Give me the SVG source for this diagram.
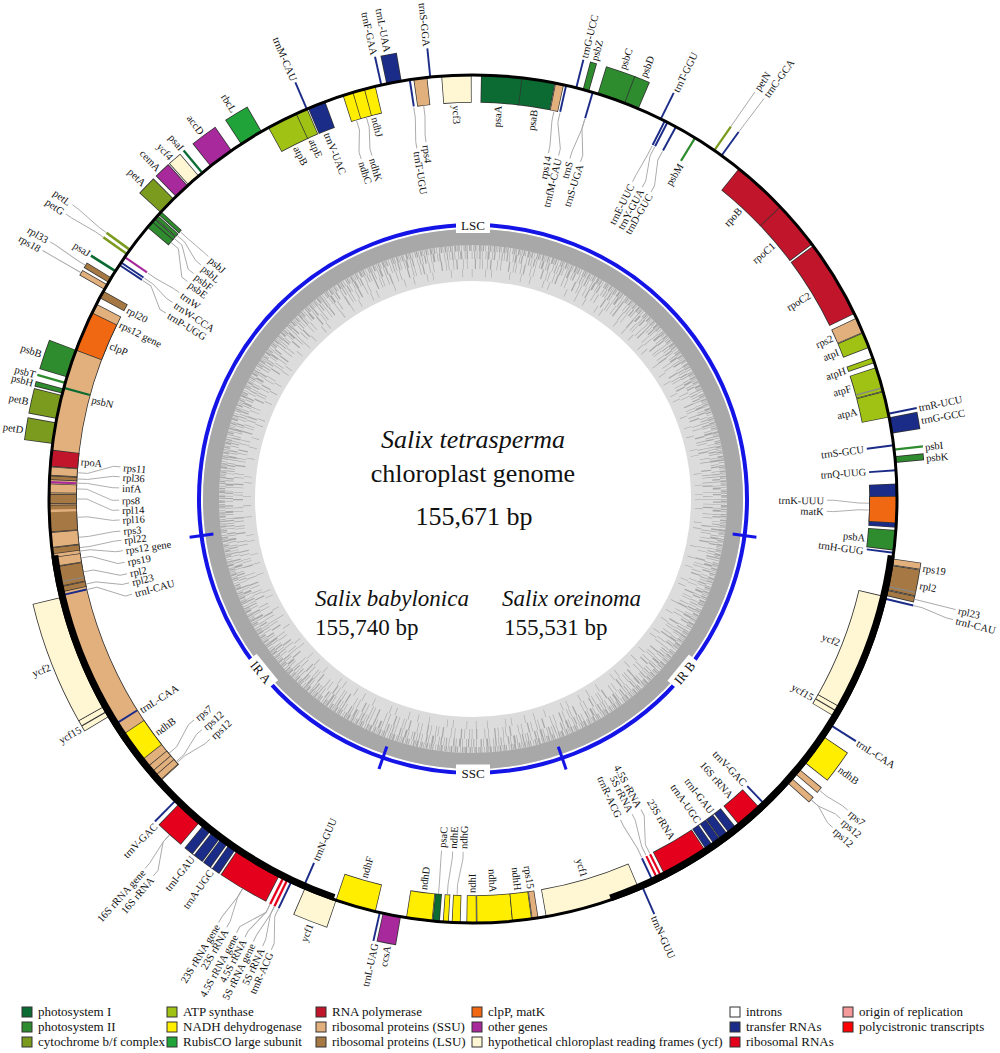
<svg xmlns="http://www.w3.org/2000/svg" width="1000" height="1053" viewBox="0 0 1000 1053">
<style>
text{font-family:"Liberation Serif","Times New Roman",serif;fill:#111}
#labels text{font-size:10.5px}
.s{text-anchor:start}.e{text-anchor:end}.m{text-anchor:middle}
.pI{stroke:#0b6b32}.pII{stroke:#2e8b2e}.cyt{stroke:#7b9b1f}.atp{stroke:#9fc214}.ndh{stroke:#ffee00}.rbc{stroke:#20a338}.rpo{stroke:#c1152b}.ssu{stroke:#e2b07d}.lsu{stroke:#a67944}.clp{stroke:#f06812}.oth{stroke:#a8299c}.ycf{stroke:#fff7d4}.trn{stroke:#1b2c88}.rrn{stroke:#e4001c}.int{stroke:#888}.wht{stroke:#fff}.drk{stroke:#333}
#leaders polyline{fill:none;stroke:#a8a8a8;stroke-width:0.9}
#ring text{font-size:13px}
#legend text{font-size:13px}
#legend rect{stroke:#333;stroke-width:1}
</style>
<defs>
<circle id="O" cx="473" cy="499" r="438" pathLength="360" fill="none" stroke-width="28"/>
<circle id="Ob" cx="473" cy="499" r="438" pathLength="360" fill="none" stroke-width="29.6" stroke="#333"/>
<circle id="OL" cx="473" cy="499" r="438.5" pathLength="360" fill="none" stroke-width="29"/>
<circle id="I" cx="473" cy="499" r="410.5" pathLength="360" fill="none" stroke-width="27"/>
<circle id="Ib" cx="473" cy="499" r="410.5" pathLength="360" fill="none" stroke-width="28.6" stroke="#333"/>
</defs>
<rect width="1000" height="1053" fill="#fff"/>
<g id="gc" fill="none">
<circle cx="473" cy="499" r="244" stroke="#dcdcdc" stroke-width="52"/>
<circle cx="473" cy="499" r="262" stroke="#a8a8a8" stroke-width="16"/>
<circle cx="473" cy="499" r="251" stroke="#a8a8a8" stroke-width="6" pathLength="2400" stroke-dasharray="1 1.5 2 1 1 2.5 3 1 1 1 2 2 1 3 1.5 1 2 1 1 2 2.5 1 1 1.5"/>
<circle cx="473" cy="499" r="244" stroke="#a8a8a8" stroke-width="8" pathLength="2400" stroke-dasharray="1 3 2 2 1 5 1 2 3 4 1 2 2 6 1 3 1.5 2.5"/>
<circle cx="473" cy="499" r="235" stroke="#a8a8a8" stroke-width="10" pathLength="2400" stroke-dasharray="1 7 1 4 2 9 1 5 1 12 2 6 1 3"/>
<circle cx="473" cy="499" r="226" stroke="#a8a8a8" stroke-width="8" pathLength="2400" stroke-dasharray="1 15 1 22 1 9 1 30 1 18"/>
</g>
<g id="ring">
<circle cx="473" cy="499" r="274" fill="none" stroke="#1414e6" stroke-width="4"/>
<g stroke="#1414e6" stroke-width="3">
<line x1="262" y1="0" x2="286" y2="0" transform="translate(473 499) rotate(7.7)"/>
<line x1="262" y1="0" x2="286" y2="0" transform="translate(473 499) rotate(71)"/>
<line x1="262" y1="0" x2="286" y2="0" transform="translate(473 499) rotate(109.2)"/>
<line x1="262" y1="0" x2="286" y2="0" transform="translate(473 499) rotate(172.3)"/>
</g>
<g transform="translate(473 499)"><rect x="-17" y="-283" width="34" height="17" fill="#fff"/><text x="0" y="-269.5" class="m">LSC</text></g>
<g transform="translate(473 499)"><rect x="-17" y="265.5" width="34" height="17" fill="#fff"/><text x="0" y="278.5" class="m">SSC</text></g>
<g transform="translate(473 499) rotate(-50.6)"><rect x="-17" y="265.5" width="34" height="17" fill="#fff"/><text x="0" y="278.5" class="m">IR B</text></g>
<g transform="translate(473 499) rotate(50.75)"><rect x="-17" y="265.5" width="34" height="17" fill="#fff"/><text x="0" y="278.5" class="m">IR A</text></g>
</g>
<g id="center">
<text x="473" y="448" font-size="26" font-style="italic" class="m">Salix tetrasperma</text>
<text x="473" y="482" font-size="26" class="m">chloroplast genome</text>
<text x="474" y="525" font-size="26" class="m">155,671 bp</text>
<text x="315" y="606" font-size="23" font-style="italic">Salix babylonica</text>
<text x="315" y="635" font-size="23">155,740 bp</text>
<text x="502" y="606" font-size="23" font-style="italic">Salix oreinoma</text>
<text x="504" y="635" font-size="23">155,531 bp</text>
</g>
<g id="genes" transform="rotate(-90 473 499)">
<!-- outside boxes -->
<use href="#Ob" stroke-dasharray="2.1 400" stroke-dashoffset="-348.2"/><use href="#O" class="trn" stroke-dasharray="1.9 400" stroke-dashoffset="-348.3"/>
<use href="#Ob" stroke-dasharray="3.3 400" stroke-dashoffset="-326.8"/><use href="#O" class="rbc" stroke-dasharray="3.1 400" stroke-dashoffset="-326.9"/>
<use href="#Ob" stroke-dasharray="3.6 400" stroke-dashoffset="-321.7"/><use href="#O" class="oth" stroke-dasharray="3.4 400" stroke-dashoffset="-321.8"/>
<use href="#Ob" stroke-dasharray="1.9 400" stroke-dashoffset="-317.8"/><use href="#O" class="ycf" stroke-dasharray="1.7 400" stroke-dashoffset="-317.9"/>
<use href="#Ob" stroke-dasharray="2.2 400" stroke-dashoffset="-315.5"/><use href="#O" class="oth" stroke-dasharray="2 400" stroke-dashoffset="-315.6"/>
<use href="#Ob" stroke-dasharray="2.6 400" stroke-dashoffset="-312.5"/><use href="#O" class="cyt" stroke-dasharray="2.4 400" stroke-dashoffset="-312.6"/>
<use href="#Ob" stroke-dasharray="0.8 400" stroke-dashoffset="-300.7"/><use href="#O" class="lsu" stroke-dasharray="0.6 400" stroke-dashoffset="-300.8"/>
<use href="#Ob" stroke-dasharray="0.8 400" stroke-dashoffset="-299.6"/><use href="#O" class="ssu" stroke-dasharray="0.6 400" stroke-dashoffset="-299.7"/>
<use href="#Ob" stroke-dasharray="3.9 400" stroke-dashoffset="-286.7"/><use href="#O" class="pII" stroke-dasharray="3.7 400" stroke-dashoffset="-286.8"/>
<use href="#Ob" stroke-dasharray="0.7 400" stroke-dashoffset="-284.4"/><use href="#O" class="pII" stroke-dasharray="0.5 400" stroke-dashoffset="-284.5"/>
<use href="#Ob" stroke-dasharray="3.3 400" stroke-dashoffset="-280.9"/><use href="#O" class="cyt" stroke-dasharray="3.1 400" stroke-dashoffset="-281"/>
<use href="#Ob" stroke-dasharray="2.9 400" stroke-dashoffset="-277.5"/><use href="#O" class="cyt" stroke-dasharray="2.7 400" stroke-dashoffset="-277.6"/>
<use href="#Ob" stroke-dasharray="0.9 400" stroke-dashoffset="-84.2"/><use href="#O" class="pII" stroke-dasharray="0.7 400" stroke-dashoffset="-84.3"/>
<use href="#Ob" stroke-dasharray="2.2 400" stroke-dashoffset="-78.9"/><use href="#O" class="trn" stroke-dasharray="2 400" stroke-dashoffset="-79"/>
<use href="#Ob" stroke-dasharray="0.9 400" stroke-dashoffset="-15"/><use href="#O" class="pII" stroke-dasharray="0.7 400" stroke-dashoffset="-15.1"/>
<use href="#Ob" stroke-dasharray="4 400" stroke-dashoffset="-17.1"/><use href="#O" class="pII" stroke-dasharray="3.8 400" stroke-dashoffset="-17.2"/>
<use href="#Ob" stroke-dasharray="2.1 400" stroke-dashoffset="-20.9"/><use href="#O" class="pII" stroke-dasharray="1.9 400" stroke-dashoffset="-21"/>
<use href="#Ob" stroke-dasharray="0.9 400" stroke-dashoffset="-98.1"/><use href="#O" class="ssu" stroke-dasharray="0.7 400" stroke-dashoffset="-98.2"/>
<use href="#Ob" stroke-dasharray="3.4 400" stroke-dashoffset="-99"/><use href="#O" class="lsu" stroke-dasharray="3.2 400" stroke-dashoffset="-99.1"/><use href="#O" class="int" stroke-dasharray="0.15 400" stroke-dashoffset="-101.85"/>
<use href="#Ob" stroke-dasharray="0.8 400" stroke-dashoffset="-102.4"/><use href="#O" class="lsu" stroke-dasharray="0.6 400" stroke-dashoffset="-102.5"/>
<use href="#Ob" stroke-dasharray="4.4 400" stroke-dashoffset="-124.1"/><use href="#O" class="ndh" stroke-dasharray="4.2 400" stroke-dashoffset="-124.2"/>
<use href="#Ob" stroke-dasharray="0.9 400" stroke-dashoffset="-129.6"/><use href="#O" class="ssu" stroke-dasharray="0.7 400" stroke-dashoffset="-129.7"/>
<use href="#Ob" stroke-dasharray="0.9 400" stroke-dashoffset="-131.2"/><use href="#O" class="ssu" stroke-dasharray="0.7 400" stroke-dashoffset="-131.3"/>
<use href="#Ob" stroke-dasharray="2.5 400" stroke-dashoffset="-189.8"/><use href="#O" class="oth" stroke-dasharray="2.3 400" stroke-dashoffset="-189.9"/>
<use href="#Ob" stroke-dasharray="4.6 400" stroke-dashoffset="-198.8"/><use href="#O" class="ycf" stroke-dasharray="4.4 400" stroke-dashoffset="-198.9"/>
<use href="#Ob" stroke-dasharray="6.7 400" stroke-dashoffset="-207.2"/><use href="#O" class="rrn" stroke-dasharray="6.5 400" stroke-dashoffset="-207.3"/>
<use href="#Ob" stroke-dasharray="2.5 400" stroke-dashoffset="-214.1"/><use href="#O" class="trn" stroke-dasharray="2.3 400" stroke-dashoffset="-214.2"/><use href="#O" class="drk" stroke-dasharray="0.4 400" stroke-dashoffset="-215.15"/><use href="#O" class="wht" stroke-dasharray="0.2 400" stroke-dashoffset="-215.25"/>
<use href="#Ob" stroke-dasharray="2.9 400" stroke-dashoffset="-216.7"/><use href="#O" class="trn" stroke-dasharray="2.7 400" stroke-dashoffset="-216.8"/><use href="#O" class="drk" stroke-dasharray="0.4 400" stroke-dashoffset="-218"/><use href="#O" class="wht" stroke-dasharray="0.2 400" stroke-dashoffset="-218.1"/>
<use href="#Ob" stroke-dasharray="3.8 400" stroke-dashoffset="-220.2"/><use href="#O" class="rrn" stroke-dasharray="3.6 400" stroke-dashoffset="-220.3"/>
<use href="#Ob" stroke-dasharray="1.6 400" stroke-dashoffset="-239.1"/><use href="#O" class="ycf" stroke-dasharray="1.4 400" stroke-dashoffset="-239.2"/><use href="#O" class="drk" stroke-dasharray="0.15 400" stroke-dashoffset="-239.8"/>
<use href="#Ob" stroke-dasharray="16 400" stroke-dashoffset="-240.6"/><use href="#O" class="ycf" stroke-dasharray="15.8 400" stroke-dashoffset="-240.7"/>
<!-- outside lines -->
<use href="#OL" class="trn" stroke-dasharray="0.25 400" stroke-dashoffset="-354.08"/>
<use href="#OL" class="trn" stroke-dasharray="0.25 400" stroke-dashoffset="-347.38"/>
<use href="#OL" class="trn" stroke-dasharray="0.25 400" stroke-dashoffset="-336.78"/>
<use href="#OL" class="pI" stroke-dasharray="0.3 400" stroke-dashoffset="-320.15"/>
<use href="#OL" class="cyt" stroke-dasharray="0.35 400" stroke-dashoffset="-305.83"/>
<use href="#OL" class="cyt" stroke-dasharray="0.35 400" stroke-dashoffset="-305.13"/>
<use href="#OL" class="pI" stroke-dasharray="0.35 400" stroke-dashoffset="-302.33"/>
<use href="#OL" class="pII" stroke-dasharray="0.3 400" stroke-dashoffset="-285.75"/>
<use href="#OL" class="pII" stroke-dasharray="0.3 400" stroke-dashoffset="-83.15"/>
<use href="#OL" class="trn" stroke-dasharray="0.25 400" stroke-dashoffset="-78.28"/>
<use href="#OL" class="cyt" stroke-dasharray="0.3 400" stroke-dashoffset="-34.55"/>
<use href="#OL" class="trn" stroke-dasharray="0.25 400" stroke-dashoffset="-35.78"/>
<use href="#OL" class="trn" stroke-dasharray="0.25 400" stroke-dashoffset="-26.18"/>
<use href="#OL" class="trn" stroke-dasharray="0.25 400" stroke-dashoffset="-13.98"/>
<use href="#OL" class="trn" stroke-dasharray="0.25 400" stroke-dashoffset="-103.48"/>
<use href="#OL" class="trn" stroke-dasharray="0.25 400" stroke-dashoffset="-122.18"/>
<use href="#OL" class="trn" stroke-dasharray="0.25 400" stroke-dashoffset="-156.28"/>
<use href="#OL" class="trn" stroke-dasharray="0.25 400" stroke-dashoffset="-192.58"/>
<use href="#OL" class="trn" stroke-dasharray="0.25 400" stroke-dashoffset="-205.28"/>
<use href="#OL" class="rrn" stroke-dasharray="0.3 400" stroke-dashoffset="-205.85"/>
<use href="#OL" class="rrn" stroke-dasharray="0.3 400" stroke-dashoffset="-206.45"/>
<use href="#OL" class="trn" stroke-dasharray="0.25 400" stroke-dashoffset="-224.48"/>
<!-- inside boxes -->
<use href="#Ib" stroke-dasharray="69.5 400" stroke-dashoffset="-227.9"/><use href="#I" class="ssu" stroke-dasharray="69.3 400" stroke-dashoffset="-228"/>
<use href="#Ib" stroke-dasharray="4.1 400" stroke-dashoffset="-355.7"/><use href="#I" class="ycf" stroke-dasharray="3.9 400" stroke-dashoffset="-355.8"/>
<use href="#Ib" stroke-dasharray="1.9 400" stroke-dashoffset="-351.9"/><use href="#I" class="ssu" stroke-dasharray="1.7 400" stroke-dashoffset="-352"/>
<use href="#Ib" stroke-dasharray="1.6 400" stroke-dashoffset="-342.1"/><use href="#I" class="ndh" stroke-dasharray="1.4 400" stroke-dashoffset="-342.2"/>
<use href="#Ib" stroke-dasharray="1.8 400" stroke-dashoffset="-343.5"/><use href="#I" class="ndh" stroke-dasharray="1.6 400" stroke-dashoffset="-343.6"/>
<use href="#Ib" stroke-dasharray="1.6 400" stroke-dashoffset="-345.1"/><use href="#I" class="ndh" stroke-dasharray="1.4 400" stroke-dashoffset="-345.2"/>
<use href="#Ib" stroke-dasharray="2.5 400" stroke-dashoffset="-337.1"/><use href="#I" class="trn" stroke-dasharray="2.3 400" stroke-dashoffset="-337.2"/>
<use href="#Ib" stroke-dasharray="4.4 400" stroke-dashoffset="-331.1"/><use href="#I" class="atp" stroke-dasharray="4.2 400" stroke-dashoffset="-331.2"/>
<use href="#Ib" stroke-dasharray="1.7 400" stroke-dashoffset="-335.3"/><use href="#I" class="atp" stroke-dasharray="1.5 400" stroke-dashoffset="-335.4"/>
<use href="#Ib" stroke-dasharray="1.1 400" stroke-dashoffset="-309.8"/><use href="#I" class="pII" stroke-dasharray="0.9 400" stroke-dashoffset="-309.9"/>
<use href="#Ib" stroke-dasharray="0.6 400" stroke-dashoffset="-310.8"/><use href="#I" class="pII" stroke-dasharray="0.4 400" stroke-dashoffset="-310.9"/>
<use href="#Ib" stroke-dasharray="0.6 400" stroke-dashoffset="-311.4"/><use href="#I" class="pII" stroke-dasharray="0.4 400" stroke-dashoffset="-311.5"/>
<use href="#Ib" stroke-dasharray="0.6 400" stroke-dashoffset="-312.1"/><use href="#I" class="pII" stroke-dasharray="0.4 400" stroke-dashoffset="-312.2"/>
<use href="#Ib" stroke-dasharray="1.1 400" stroke-dashoffset="-298.3"/><use href="#I" class="lsu" stroke-dasharray="0.9 400" stroke-dashoffset="-298.4"/>
<use href="#Ib" stroke-dasharray="5.6 400" stroke-dashoffset="-290.5"/><use href="#I" class="clp" stroke-dasharray="5.4 400" stroke-dashoffset="-290.6"/>
<use href="#Ib" stroke-dasharray="2.3 400" stroke-dashoffset="-274.4"/><use href="#I" class="rpo" stroke-dasharray="2.1 400" stroke-dashoffset="-274.5"/>
<use href="#Ib" stroke-dasharray="1.2 400" stroke-dashoffset="-273.2"/><use href="#I" class="ssu" stroke-dasharray="1 400" stroke-dashoffset="-273.3"/>
<use href="#Ib" stroke-dasharray="0.6 400" stroke-dashoffset="-272.6"/><use href="#I" class="lsu" stroke-dasharray="0.4 400" stroke-dashoffset="-272.7"/>
<use href="#Ib" stroke-dasharray="1.3 400" stroke-dashoffset="-270.8"/><use href="#I" class="ssu" stroke-dasharray="1.1 400" stroke-dashoffset="-270.9"/>
<use href="#Ib" stroke-dasharray="1.4 400" stroke-dashoffset="-269.3"/><use href="#I" class="lsu" stroke-dasharray="1.2 400" stroke-dashoffset="-269.4"/>
<use href="#Ib" stroke-dasharray="3.7 400" stroke-dashoffset="-265.5"/><use href="#I" class="lsu" stroke-dasharray="3.5 400" stroke-dashoffset="-265.6"/><use href="#I" class="ssu" stroke-dasharray="0.35 400" stroke-dashoffset="-268.2"/>
<use href="#Ib" stroke-dasharray="2.1 400" stroke-dashoffset="-263.4"/><use href="#I" class="ssu" stroke-dasharray="1.9 400" stroke-dashoffset="-263.5"/>
<use href="#Ib" stroke-dasharray="0.9 400" stroke-dashoffset="-262.5"/><use href="#I" class="lsu" stroke-dasharray="0.7 400" stroke-dashoffset="-262.6"/>
<use href="#Ib" stroke-dasharray="1.3 400" stroke-dashoffset="-260.8"/><use href="#I" class="ssu" stroke-dasharray="1.1 400" stroke-dashoffset="-260.9"/>
<use href="#Ib" stroke-dasharray="2.8 400" stroke-dashoffset="-258"/><use href="#I" class="lsu" stroke-dasharray="2.6 400" stroke-dashoffset="-258.1"/><use href="#I" class="int" stroke-dasharray="0.15 400" stroke-dashoffset="-258.55"/>
<use href="#Ib" stroke-dasharray="0.8 400" stroke-dashoffset="-257.2"/><use href="#I" class="lsu" stroke-dasharray="0.6 400" stroke-dashoffset="-257.3"/>
<use href="#Ib" stroke-dasharray="4.4 400" stroke-dashoffset="-231.7"/><use href="#I" class="ndh" stroke-dasharray="4.2 400" stroke-dashoffset="-231.8"/>
<use href="#Ib" stroke-dasharray="1 400" stroke-dashoffset="-229.6"/><use href="#I" class="ssu" stroke-dasharray="0.8 400" stroke-dashoffset="-229.7"/>
<use href="#Ib" stroke-dasharray="1 400" stroke-dashoffset="-228"/><use href="#I" class="ssu" stroke-dasharray="0.8 400" stroke-dashoffset="-228.1"/>
<use href="#Ib" stroke-dasharray="5.6 400" stroke-dashoffset="-193.3"/><use href="#I" class="ndh" stroke-dasharray="5.4 400" stroke-dashoffset="-193.4"/>
<use href="#Ib" stroke-dasharray="3.6 400" stroke-dashoffset="-185.5"/><use href="#I" class="ndh" stroke-dasharray="3.4 400" stroke-dashoffset="-185.6"/>
<use href="#Ib" stroke-dasharray="1 400" stroke-dashoffset="-184.5"/><use href="#I" class="pI" stroke-dasharray="0.8 400" stroke-dashoffset="-184.6"/>
<use href="#Ib" stroke-dasharray="0.8 400" stroke-dashoffset="-183.3"/><use href="#I" class="ndh" stroke-dasharray="0.6 400" stroke-dashoffset="-183.4"/>
<use href="#Ib" stroke-dasharray="1.2 400" stroke-dashoffset="-181.7"/><use href="#I" class="ndh" stroke-dasharray="1 400" stroke-dashoffset="-181.8"/>
<use href="#Ib" stroke-dasharray="1.4 400" stroke-dashoffset="-179.5"/><use href="#I" class="ndh" stroke-dasharray="1.2 400" stroke-dashoffset="-179.6"/>
<use href="#Ib" stroke-dasharray="4.9 400" stroke-dashoffset="-174.6"/><use href="#I" class="ndh" stroke-dasharray="4.7 400" stroke-dashoffset="-174.7"/>
<use href="#Ib" stroke-dasharray="2.7 400" stroke-dashoffset="-172"/><use href="#I" class="ndh" stroke-dasharray="2.5 400" stroke-dashoffset="-172.1"/>
<use href="#Ib" stroke-dasharray="0.9 400" stroke-dashoffset="-171.1"/><use href="#I" class="ssu" stroke-dasharray="0.7 400" stroke-dashoffset="-171.2"/>
<use href="#Ib" stroke-dasharray="13.2 400" stroke-dashoffset="-156.9"/><use href="#I" class="ycf" stroke-dasharray="13 400" stroke-dashoffset="-157"/>
<use href="#Ib" stroke-dasharray="6.5 400" stroke-dashoffset="-146.5"/><use href="#I" class="rrn" stroke-dasharray="6.3 400" stroke-dashoffset="-146.6"/>
<use href="#Ib" stroke-dasharray="2.4 400" stroke-dashoffset="-144"/><use href="#I" class="trn" stroke-dasharray="2.2 400" stroke-dashoffset="-144.1"/><use href="#I" class="drk" stroke-dasharray="0.4 400" stroke-dashoffset="-145"/><use href="#I" class="wht" stroke-dasharray="0.2 400" stroke-dashoffset="-145.1"/>
<use href="#Ib" stroke-dasharray="2.7 400" stroke-dashoffset="-141.3"/><use href="#I" class="trn" stroke-dasharray="2.5 400" stroke-dashoffset="-141.4"/><use href="#I" class="drk" stroke-dasharray="0.4 400" stroke-dashoffset="-142.45"/><use href="#I" class="wht" stroke-dasharray="0.2 400" stroke-dashoffset="-142.55"/>
<use href="#Ib" stroke-dasharray="3.7 400" stroke-dashoffset="-137.1"/><use href="#I" class="rrn" stroke-dasharray="3.5 400" stroke-dashoffset="-137.2"/>
<use href="#Ib" stroke-dasharray="1.6 400" stroke-dashoffset="-119.5"/><use href="#I" class="ycf" stroke-dasharray="1.4 400" stroke-dashoffset="-119.6"/><use href="#I" class="drk" stroke-dasharray="0.15 400" stroke-dashoffset="-120.2"/>
<use href="#Ib" stroke-dasharray="16.3 400" stroke-dashoffset="-103.3"/><use href="#I" class="ycf" stroke-dasharray="16.1 400" stroke-dashoffset="-103.4"/>
<use href="#Ib" stroke-dasharray="2.8 400" stroke-dashoffset="-94.2"/><use href="#I" class="pII" stroke-dasharray="2.6 400" stroke-dashoffset="-94.3"/>
<use href="#Ib" stroke-dasharray="6 400" stroke-dashoffset="-87.9"/><use href="#I" class="trn" stroke-dasharray="5.8 400" stroke-dashoffset="-88"/>
<use href="#Ib" stroke-dasharray="3.7 400" stroke-dashoffset="-89.6"/><use href="#I" class="clp" stroke-dasharray="3.5 400" stroke-dashoffset="-89.7"/>
<use href="#Ib" stroke-dasharray="3.6 400" stroke-dashoffset="-75.3"/><use href="#I" class="atp" stroke-dasharray="3.4 400" stroke-dashoffset="-75.4"/>
<use href="#Ib" stroke-dasharray="3.4 400" stroke-dashoffset="-71.9"/><use href="#I" class="atp" stroke-dasharray="3.2 400" stroke-dashoffset="-72"/><use href="#I" class="int" stroke-dasharray="0.2 400" stroke-dashoffset="-74.7"/>
<use href="#Ib" stroke-dasharray="0.8 400" stroke-dashoffset="-70.5"/><use href="#I" class="atp" stroke-dasharray="0.6 400" stroke-dashoffset="-70.6"/>
<use href="#Ib" stroke-dasharray="2.2 400" stroke-dashoffset="-66.9"/><use href="#I" class="atp" stroke-dasharray="2 400" stroke-dashoffset="-67"/>
<use href="#Ib" stroke-dasharray="2.2 400" stroke-dashoffset="-64.7"/><use href="#I" class="ssu" stroke-dasharray="2 400" stroke-dashoffset="-64.8"/>
<use href="#Ib" stroke-dasharray="10.8 400" stroke-dashoffset="-53.3"/><use href="#I" class="rpo" stroke-dasharray="10.6 400" stroke-dashoffset="-53.4"/>
<use href="#Ib" stroke-dasharray="6.8 400" stroke-dashoffset="-46.3"/><use href="#I" class="rpo" stroke-dasharray="6.6 400" stroke-dashoffset="-46.4"/>
<use href="#Ib" stroke-dasharray="7.7 400" stroke-dashoffset="-38.8"/><use href="#I" class="rpo" stroke-dasharray="7.5 400" stroke-dashoffset="-38.9"/>
<use href="#Ib" stroke-dasharray="1.2 400" stroke-dashoffset="-11.2"/><use href="#I" class="ssu" stroke-dasharray="1 400" stroke-dashoffset="-11.3"/>
<use href="#Ib" stroke-dasharray="4.7 400" stroke-dashoffset="-6.5"/><use href="#I" class="pI" stroke-dasharray="4.5 400" stroke-dashoffset="-6.6"/>
<use href="#Ib" stroke-dasharray="5.6 400" stroke-dashoffset="-1.1"/><use href="#I" class="pI" stroke-dasharray="5.4 400" stroke-dashoffset="-1.2"/>
<!-- inside lines -->
<use href="#I" class="trn" stroke-dasharray="0.27 400" stroke-dashoffset="-351.27"/>
<use href="#I" class="oth" stroke-dasharray="0.3 400" stroke-dashoffset="-304.65"/>
<use href="#I" class="trn" stroke-dasharray="0.27 400" stroke-dashoffset="-303.77"/>
<use href="#I" class="trn" stroke-dasharray="0.27 400" stroke-dashoffset="-303.37"/>
<use href="#I" class="pI" stroke-dasharray="0.3 400" stroke-dashoffset="-285.05"/>
<use href="#I" class="oth" stroke-dasharray="0.3 400" stroke-dashoffset="-272.15"/>
<use href="#I" class="trn" stroke-dasharray="0.27 400" stroke-dashoffset="-256.67"/>
<use href="#I" class="trn" stroke-dasharray="0.27 400" stroke-dashoffset="-237.67"/>
<use href="#I" class="trn" stroke-dasharray="0.27 400" stroke-dashoffset="-203.47"/>
<use href="#I" class="trn" stroke-dasharray="0.27 400" stroke-dashoffset="-154.67"/>
<use href="#I" class="rrn" stroke-dasharray="0.3 400" stroke-dashoffset="-153.95"/>
<use href="#I" class="rrn" stroke-dasharray="0.3 400" stroke-dashoffset="-153.35"/>
<use href="#I" class="trn" stroke-dasharray="0.27 400" stroke-dashoffset="-136.17"/>
<use href="#I" class="trn" stroke-dasharray="0.27 400" stroke-dashoffset="-97.17"/>
<use href="#I" class="trn" stroke-dasharray="0.27 400" stroke-dashoffset="-85.97"/>
<use href="#I" class="trn" stroke-dasharray="0.27 400" stroke-dashoffset="-82.57"/>
<use href="#I" class="pII" stroke-dasharray="0.3 400" stroke-dashoffset="-31.45"/>
<use href="#I" class="trn" stroke-dasharray="0.27 400" stroke-dashoffset="-28.47"/>
<use href="#I" class="trn" stroke-dasharray="0.27 400" stroke-dashoffset="-27.17"/>
<use href="#I" class="trn" stroke-dasharray="0.27 400" stroke-dashoffset="-26.77"/>
<use href="#I" class="trn" stroke-dasharray="0.27 400" stroke-dashoffset="-16.27"/>
<use href="#I" class="trn" stroke-dasharray="0.27 400" stroke-dashoffset="-12.57"/>
</g>
<g id="backbone" fill="none" stroke="#000">
<circle cx="473" cy="499" r="424" stroke-width="3"/>
<g transform="rotate(-90 473 499)">
<circle cx="473" cy="499" r="422" stroke-width="7" pathLength="360" stroke-dasharray="63.3 400" stroke-dashoffset="-97.7"/>
<circle cx="473" cy="499" r="422" stroke-width="7" pathLength="360" stroke-dasharray="63.1 400" stroke-dashoffset="-199.2"/>
</g>
</g>
<g id="leaders">
<polyline transform="translate(473 499) rotate(216.3)" points="453,-2.4 462,-2.4 490,0 497,0"/>
<polyline transform="translate(473 499) rotate(215)" points="453,2.4 462,2.4 490,0 497,0"/>
<polyline transform="translate(473 499) rotate(211.3)" points="453,-1.6 462,-1.6 488,0 495,0"/>
<polyline transform="translate(473 499) rotate(210)" points="453,0 497,0"/>
<polyline transform="translate(473 499) rotate(131.6)" points="453,3.9 462,4 487,0 494,0"/>
<polyline transform="translate(473 499) rotate(130.3)" points="453,14.2 462,14.5 487,0 494,0"/>
<polyline transform="translate(473 499) rotate(121)" points="453,-3.2 462,-3.2 487,0 494,0"/>
<polyline transform="translate(473 499) rotate(119.9)" points="453,5.5 462,5.6 487,0 494,0"/>
<polyline transform="translate(473 499) rotate(118.6)" points="453,-15.8 462,-16.1 487,0 494,0"/>
<polyline transform="translate(473 499) rotate(117.5)" points="453,-7.1 462,-7.3 487,0 494,0"/>
<polyline transform="translate(473 499) rotate(116.4)" points="453,-3.2 462,-3.2 487,0 494,0"/>
<polyline transform="translate(473 499) rotate(115.2)" points="453,6.3 462,6.4 487,0 494,0"/>
<polyline transform="translate(473 499) rotate(114.1)" points="453,10.3 462,10.5 487,0 494,0"/>
<polyline transform="translate(473 499) rotate(262.5)" points="396,2.4 386,2.4 367,0 360,0"/>
<polyline transform="translate(473 499) rotate(260.9)" points="396,3.4 386,3.4 362,0 355,0"/>
<polyline transform="translate(473 499) rotate(253.6)" points="396,5.5 386,5.4 365,0 358,0"/>
<polyline transform="translate(473 499) rotate(251.8)" points="396,7.6 386,7.4 365,0 358,0"/>
<polyline transform="translate(473 499) rotate(222.5)" points="396,-0.7 386,-0.7 366,0 359,0"/>
<polyline transform="translate(473 499) rotate(220.7)" points="396,6.9 386,6.7 366,0 359,0"/>
<polyline transform="translate(473 499) rotate(218.9)" points="396,15.2 386,14.8 366,0 359,0"/>
<polyline transform="translate(473 499) rotate(217.3)" points="396,21.1 386,20.5 366,0 359,0"/>
<polyline transform="translate(473 499) rotate(215.1)" points="396,-2.1 386,-2 366,0 359,0"/>
<polyline transform="translate(473 499) rotate(213.2)" points="396,4.8 386,4.7 366,0 359,0"/>
<polyline transform="translate(473 499) rotate(211.2)" points="396,15.9 386,15.5 366,0 359,0"/>
<polyline transform="translate(473 499) rotate(185.2)" points="396,-9.7 386,-9.4 361,0 354,0"/>
<polyline transform="translate(473 499) rotate(183.6)" points="396,-4.8 386,-4.7 361,0 354,0"/>
<polyline transform="translate(473 499) rotate(181.8)" points="396,3.4 386,3.4 361,0 354,0"/>
<polyline transform="translate(473 499) rotate(179.8)" points="396,11.4 386,11.1 361,0 354,0"/>
<polyline transform="translate(473 499) rotate(178.2)" points="396,12.4 386,12.1 361,0 354,0"/>
<polyline transform="translate(473 499) rotate(176.6)" points="396,5.2 386,5.1 361,0 354,0"/>
<polyline transform="translate(473 499) rotate(174.8)" points="396,-2.4 386,-2.4 361,0 354,0"/>
<polyline transform="translate(473 499) rotate(173.3)" points="396,-2.4 386,-2.4 361,0 354,0"/>
<polyline transform="translate(473 499) rotate(171.6)" points="396,5.9 386,5.7 361,0 354,0"/>
<polyline transform="translate(473 499) rotate(169.7)" points="396,12.1 386,11.8 361,0 354,0"/>
<polyline transform="translate(473 499) rotate(167.8)" points="396,11.1 386,10.8 361,0 354,0"/>
<polyline transform="translate(473 499) rotate(166.3)" points="396,9 386,8.8 361,0 354,0"/>
<polyline transform="translate(473 499) rotate(164.4)" points="396,16.6 386,16.2 361,0 354,0"/>
<polyline transform="translate(473 499) rotate(141.6)" points="396,-10.4 386,-10.1 363,0 356,0"/>
<polyline transform="translate(473 499) rotate(139.6)" points="396,-7.6 386,-7.4 363,0 356,0"/>
<polyline transform="translate(473 499) rotate(137.6)" points="396,4.8 386,4.7 363,0 356,0"/>
<polyline transform="translate(473 499) rotate(95.1)" points="396,-0.7 386,-0.7 360,0 353,0"/>
<polyline transform="translate(473 499) rotate(93.3)" points="396,2.8 386,2.7 360,0 353,0"/>
<polyline transform="translate(473 499) rotate(91.6)" points="396,4.8 386,4.7 360,0 353,0"/>
<polyline transform="translate(473 499) rotate(-55.3)" points="453,0 495,0"/>
<polyline transform="translate(473 499) rotate(-54)" points="453,-0.8 495,0"/>
<polyline transform="translate(473 499) rotate(12.9)" points="453,-0.8 495,0"/>
<polyline transform="translate(473 499) rotate(14.1)" points="453,-3.9 462,-4 488,0 495,0"/>
<polyline transform="translate(473 499) rotate(39.7)" points="453,2.8 462,2.8 480,0 487,0"/>
<polyline transform="translate(473 499) rotate(41)" points="453,5.1 462,5.2 480,0 487,0"/>
<polyline transform="translate(473 499) rotate(42.4)" points="453,-5.9 462,-6.1 480,0 487,0"/>
<polyline transform="translate(473 499) rotate(-77.7)" points="396,-3.5 386,-3.4 361,0 354,0"/>
<polyline transform="translate(473 499) rotate(-76)" points="396,-9 386,-8.8 361,0 354,0"/>
<polyline transform="translate(473 499) rotate(-74.1)" points="396,3.5 386,3.4 361,0 354,0"/>
<polyline transform="translate(473 499) rotate(-72.3)" points="396,-9 386,-8.8 361,0 354,0"/>
<polyline transform="translate(473 499) rotate(-63.3)" points="396,1.4 386,1.3 362,0 355,0"/>
<polyline transform="translate(473 499) rotate(-61.5)" points="396,-8.3 386,-8.1 362,0 355,0"/>
<polyline transform="translate(473 499) rotate(-59.9)" points="396,-10.4 386,-10.1 362,0 355,0"/>
<polyline transform="translate(473 499) rotate(0.2)" points="396,2.8 386,2.7 361,0 354,0"/>
<polyline transform="translate(473 499) rotate(2)" points="396,-2.8 386,-2.7 361,0 354,0"/>
<polyline transform="translate(473 499) rotate(61.6)" points="396,13.1 386,12.8 360,0 353,0"/>
<polyline transform="translate(473 499) rotate(63.2)" points="396,6.2 386,6.1 360,0 353,0"/>
<polyline transform="translate(473 499) rotate(65.3)" points="396,-3.5 386,-3.4 360,0 353,0"/>
</g>
<g id="labels">
<!-- left outside -->
<text transform="translate(473 499) rotate(84.2)" x="-455" y="4" class="e">trnS-GGA</text>
<text transform="translate(473 499) rotate(79.2)" x="-455" y="4" class="e">trnL-UAA</text>
<text transform="translate(473 499) rotate(77.5)" x="-455" y="4" class="e">trnF-GAA</text>
<text transform="translate(473 499) rotate(66.9)" x="-455" y="4" class="e">trnM-CAU</text>
<text transform="translate(473 499) rotate(58.4)" x="-455" y="4" class="e">rbcL</text>
<text transform="translate(473 499) rotate(53.5)" x="-455" y="4" class="e">accD</text>
<text transform="translate(473 499) rotate(50.3)" x="-455" y="4" class="e">psaI</text>
<text transform="translate(473 499) rotate(48.5)" x="-455" y="4" class="e">ycf4</text>
<text transform="translate(473 499) rotate(46.4)" x="-455" y="4" class="e">cemA</text>
<text transform="translate(473 499) rotate(43.8)" x="-455" y="4" class="e">petA</text>
<text transform="translate(473 499) rotate(32.6)" x="-455" y="4" class="e">psaJ</text>
<text transform="translate(473 499) rotate(18.6)" x="-455" y="4" class="e">psbB</text>
<text transform="translate(473 499) rotate(15.9)" x="-455" y="4" class="e">psbT</text>
<text transform="translate(473 499) rotate(14.8)" x="-455" y="4" class="e">psbH</text>
<text transform="translate(473 499) rotate(12.4)" x="-455" y="4" class="e">petB</text>
<text transform="translate(473 499) rotate(8.8)" x="-455" y="4" class="e">petD</text>
<text transform="translate(473 499) rotate(-21.6)" x="-455" y="4" class="e">ycf2</text>
<text transform="translate(473 499) rotate(-30.3)" x="-455" y="4" class="e">ycf15</text>
<text transform="translate(473 499) rotate(-45.7)" x="-455" y="4" class="e">trnV-GAC</text>
<text transform="translate(473 499) rotate(-51.9)" x="-455" y="4" class="e">trnI-GAU</text>
<text transform="translate(473 499) rotate(-54.8)" x="-455" y="4" class="e">trnA-UGC</text>
<text transform="translate(473 499) rotate(-69)" x="-455" y="4" class="e">ycf1</text>
<text transform="translate(473 499) rotate(-77.5)" x="-455" y="4" class="e">trnL-UAG</text>
<text transform="translate(473 499) rotate(-79.1)" x="-455" y="4" class="e">ccsA</text>
<text transform="translate(473 499) rotate(36.3)" x="-500" y="4" class="e">petL</text>
<text transform="translate(473 499) rotate(35)" x="-500" y="4" class="e">petG</text>
<text transform="translate(473 499) rotate(31.3)" x="-498" y="4" class="e">rpl33</text>
<text transform="translate(473 499) rotate(30)" x="-500" y="4" class="e">rps18</text>
<text transform="translate(473 499) rotate(-48.4)" x="-497" y="4" class="e">16S rRNA gene</text>
<text transform="translate(473 499) rotate(-49.7)" x="-497" y="4" class="e">16S rRNA</text>
<text transform="translate(473 499) rotate(-59)" x="-497" y="4" class="e">23S rRNA gene</text>
<text transform="translate(473 499) rotate(-60.1)" x="-497" y="4" class="e">23S rRNA</text>
<text transform="translate(473 499) rotate(-61.4)" x="-497" y="4" class="e">4.5S rRNA gene</text>
<text transform="translate(473 499) rotate(-62.5)" x="-497" y="4" class="e">4.5S rRNA</text>
<text transform="translate(473 499) rotate(-63.6)" x="-497" y="4" class="e">5S rRNA gene</text>
<text transform="translate(473 499) rotate(-64.8)" x="-497" y="4" class="e">5S rRNA</text>
<text transform="translate(473 499) rotate(-65.9)" x="-497" y="4" class="e">trnR-ACG</text>
<!-- left inside -->
<text transform="translate(473 499) rotate(87.6)" x="-394" y="4" class="s">ycf3</text>
<text transform="translate(473 499) rotate(75.6)" x="-394" y="4" class="s">ndhJ</text>
<text transform="translate(473 499) rotate(68.3)" x="-394" y="4" class="s">trnV-UAC</text>
<text transform="translate(473 499) rotate(65.9)" x="-394" y="4" class="s">atpE</text>
<text transform="translate(473 499) rotate(63.4)" x="-394" y="4" class="s">atpB</text>
<text transform="translate(473 499) rotate(28.8)" x="-394" y="4" class="s">rpl20</text>
<text transform="translate(473 499) rotate(26.4)" x="-394" y="4" class="s">rps12 gene</text>
<text transform="translate(473 499) rotate(23)" x="-394" y="4" class="s">clpP</text>
<text transform="translate(473 499) rotate(14.7)" x="-394" y="4" class="s">psbN</text>
<text transform="translate(473 499) rotate(5.5)" x="-394" y="4" class="s">rpoA</text>
<text transform="translate(473 499) rotate(-32.4)" x="-394" y="4" class="s">trnL-CAA</text>
<text transform="translate(473 499) rotate(-36.4)" x="-394" y="4" class="s">ndhB</text>
<text transform="translate(473 499) rotate(-66.4)" x="-394" y="4" class="s">trnN-GUU</text>
<text transform="translate(473 499) rotate(-73.9)" x="-394" y="4" class="s">ndhF</text>
<text transform="translate(473 499) rotate(-82.7)" x="-394" y="4" class="s">ndhD</text>
<text transform="translate(473 499) rotate(-89.8)" x="-394" y="4" class="s">ndhI</text>
<text transform="translate(473 499) rotate(82.5)" x="-357" y="4" class="s">rps4</text>
<text transform="translate(473 499) rotate(80.9)" x="-352" y="4" class="s">trnT-UGU</text>
<text transform="translate(473 499) rotate(73.6)" x="-355" y="4" class="s">ndhK</text>
<text transform="translate(473 499) rotate(71.8)" x="-355" y="4" class="s">ndhC</text>
<text transform="translate(473 499) rotate(42.5)" x="-356" y="4" class="s">psbJ</text>
<text transform="translate(473 499) rotate(40.7)" x="-356" y="4" class="s">psbL</text>
<text transform="translate(473 499) rotate(38.9)" x="-356" y="4" class="s">psbF</text>
<text transform="translate(473 499) rotate(37.3)" x="-356" y="4" class="s">psbE</text>
<text transform="translate(473 499) rotate(35.1)" x="-356" y="4" class="s">trnW</text>
<text transform="translate(473 499) rotate(33.2)" x="-356" y="4" class="s">trnW-CCA</text>
<text transform="translate(473 499) rotate(31.2)" x="-356" y="4" class="s">trnP-UGG</text>
<text transform="translate(473 499) rotate(5.2)" x="-351" y="4" class="s">rps11</text>
<text transform="translate(473 499) rotate(3.6)" x="-351" y="4" class="s">rpl36</text>
<text transform="translate(473 499) rotate(1.8)" x="-351" y="4" class="s">infA</text>
<text transform="translate(473 499) rotate(-0.2)" x="-351" y="4" class="s">rps8</text>
<text transform="translate(473 499) rotate(-1.8)" x="-351" y="4" class="s">rpl14</text>
<text transform="translate(473 499) rotate(-3.4)" x="-351" y="4" class="s">rpl16</text>
<text transform="translate(473 499) rotate(-5.2)" x="-351" y="4" class="s">rps3</text>
<text transform="translate(473 499) rotate(-6.7)" x="-351" y="4" class="s">rpl22</text>
<text transform="translate(473 499) rotate(-8.4)" x="-351" y="4" class="s">rps12 gene</text>
<text transform="translate(473 499) rotate(-10.3)" x="-351" y="4" class="s">rps19</text>
<text transform="translate(473 499) rotate(-12.2)" x="-351" y="4" class="s">rpl2</text>
<text transform="translate(473 499) rotate(-13.7)" x="-351" y="4" class="s">rpl23</text>
<text transform="translate(473 499) rotate(-15.6)" x="-351" y="4" class="s">trnI-CAU</text>
<text transform="translate(473 499) rotate(-38.4)" x="-353" y="4" class="s">rps7</text>
<text transform="translate(473 499) rotate(-40.4)" x="-353" y="4" class="s">rps12</text>
<text transform="translate(473 499) rotate(-42.4)" x="-353" y="4" class="s">rps12</text>
<text transform="translate(473 499) rotate(-84.9)" x="-350" y="4" class="s">psaC</text>
<text transform="translate(473 499) rotate(-86.7)" x="-350" y="4" class="s">ndhE</text>
<text transform="translate(473 499) rotate(-88.4)" x="-350" y="4" class="s">ndhG</text>
<!-- right outside -->
<text transform="translate(473 499) rotate(-75.9)" x="455" y="4" class="s">trnG-UCC</text>
<text transform="translate(473 499) rotate(-74.6)" x="455" y="4" class="s">psbZ</text>
<text transform="translate(473 499) rotate(-70.9)" x="455" y="4" class="s">psbC</text>
<text transform="translate(473 499) rotate(-68.1)" x="455" y="4" class="s">psbD</text>
<text transform="translate(473 499) rotate(-63.6)" x="455" y="4" class="s">trnT-GGU</text>
<text transform="translate(473 499) rotate(-11.6)" x="455" y="4" class="s">trnR-UCU</text>
<text transform="translate(473 499) rotate(-10)" x="455" y="4" class="s">trnG-GCC</text>
<text transform="translate(473 499) rotate(-6.6)" x="455" y="4" class="s">psbI</text>
<text transform="translate(473 499) rotate(-5.2)" x="455" y="4" class="s">psbK</text>
<text transform="translate(473 499) rotate(8.7)" x="455" y="4" class="s">rps19</text>
<text transform="translate(473 499) rotate(10.9)" x="455" y="4" class="s">rpl2</text>
<text transform="translate(473 499) rotate(32.3)" x="455" y="4" class="s">trnL-CAA</text>
<text transform="translate(473 499) rotate(36.3)" x="455" y="4" class="s">ndhB</text>
<text transform="translate(473 499) rotate(66.5)" x="455" y="4" class="s">trnN-GUU</text>
<text transform="translate(473 499) rotate(-55.3)" x="498" y="4" class="s">petN</text>
<text transform="translate(473 499) rotate(-54)" x="498" y="4" class="s">trnC-GCA</text>
<text transform="translate(473 499) rotate(12.9)" x="498" y="4" class="s">rpl23</text>
<text transform="translate(473 499) rotate(14.1)" x="498" y="4" class="s">trnI-CAU</text>
<text transform="translate(473 499) rotate(39.7)" x="490" y="4" class="s">rps7</text>
<text transform="translate(473 499) rotate(41)" x="490" y="4" class="s">rps12</text>
<text transform="translate(473 499) rotate(42.4)" x="490" y="4" class="s">rps12</text>
<!-- right inside -->
<text transform="translate(473 499) rotate(-86.4)" x="394" y="4" class="e">psaA</text>
<text transform="translate(473 499) rotate(-81.1)" x="394" y="4" class="e">psaB</text>
<text transform="translate(473 499) rotate(-58.2)" x="394" y="4" class="e">psbM</text>
<text transform="translate(473 499) rotate(-47.4)" x="394" y="4" class="e">rpoB</text>
<text transform="translate(473 499) rotate(-40.3)" x="394" y="4" class="e">rpoC1</text>
<text transform="translate(473 499) rotate(-31.3)" x="394" y="4" class="e">rpoC2</text>
<text transform="translate(473 499) rotate(-24.2)" x="394" y="4" class="e">rps2</text>
<text transform="translate(473 499) rotate(-22)" x="394" y="4" class="e">atpI</text>
<text transform="translate(473 499) rotate(-19.1)" x="394" y="4" class="e">atpH</text>
<text transform="translate(473 499) rotate(-16.4)" x="394" y="4" class="e">atpF</text>
<text transform="translate(473 499) rotate(-12.9)" x="394" y="4" class="e">atpA</text>
<text transform="translate(473 499) rotate(-7.3)" x="394" y="4" class="e">trnS-GCU</text>
<text transform="translate(473 499) rotate(-4)" x="394" y="4" class="e">trnQ-UUG</text>
<text transform="translate(473 499) rotate(5.6)" x="394" y="4" class="e">psbA</text>
<text transform="translate(473 499) rotate(7.5)" x="394" y="4" class="e">trnH-GUG</text>
<text transform="translate(473 499) rotate(21.4)" x="394" y="4" class="e">ycf2</text>
<text transform="translate(473 499) rotate(30.3)" x="394" y="4" class="e">ycf15</text>
<text transform="translate(473 499) rotate(46.3)" x="394" y="4" class="e">trnV-GAC</text>
<text transform="translate(473 499) rotate(49)" x="394" y="4" class="e">16S rRNA</text>
<text transform="translate(473 499) rotate(52.6)" x="394" y="4" class="e">trnI-GAU</text>
<text transform="translate(473 499) rotate(55)" x="394" y="4" class="e">trnA-UGC</text>
<text transform="translate(473 499) rotate(59.5)" x="394" y="4" class="e">23S rRNA</text>
<text transform="translate(473 499) rotate(73.5)" x="394" y="4" class="e">ycf1</text>
<text transform="translate(473 499) rotate(81.5)" x="394" y="4" class="e">rps15</text>
<text transform="translate(473 499) rotate(83.4)" x="394" y="4" class="e">ndhH</text>
<text transform="translate(473 499) rotate(87)" x="394" y="4" class="e">ndhA</text>
<text transform="translate(473 499) rotate(-77.7)" x="351" y="4" class="e">rps14</text>
<text transform="translate(473 499) rotate(-76)" x="351" y="4" class="e">trnfM-CAU</text>
<text transform="translate(473 499) rotate(-74.1)" x="351" y="4" class="e">trnS</text>
<text transform="translate(473 499) rotate(-72.3)" x="351" y="4" class="e">trnS-UGA</text>
<text transform="translate(473 499) rotate(-63.3)" x="352" y="4" class="e">trnE-UUC</text>
<text transform="translate(473 499) rotate(-61.5)" x="352" y="4" class="e">trnY-GUA</text>
<text transform="translate(473 499) rotate(-59.9)" x="352" y="4" class="e">trnD-GUC</text>
<text transform="translate(473 499) rotate(0.2)" x="351" y="4" class="e">trnK-UUU</text>
<text transform="translate(473 499) rotate(2)" x="351" y="4" class="e">matK</text>
<text transform="translate(473 499) rotate(61.6)" x="350" y="4" class="e">4.5S rRNA</text>
<text transform="translate(473 499) rotate(63.2)" x="350" y="4" class="e">5S rRNA</text>
<text transform="translate(473 499) rotate(65.3)" x="350" y="4" class="e">trnR-ACG</text>
</g>
<g id="legend">
<rect x="22" y="1007" width="10" height="10" fill="#0b6b32"/><text x="38" y="1016">photosystem I</text>
<rect x="22" y="1022" width="10" height="10" fill="#2e8b2e"/><text x="38" y="1031">photosystem II</text>
<rect x="22" y="1037" width="10" height="10" fill="#7b9b1f"/><text x="38" y="1046">cytochrome b/f complex</text>
<rect x="167" y="1007" width="10" height="10" fill="#9fc214"/><text x="183" y="1016">ATP synthase</text>
<rect x="167" y="1022" width="10" height="10" fill="#ffee00"/><text x="183" y="1031">NADH dehydrogenase</text>
<rect x="167" y="1037" width="10" height="10" fill="#20a338"/><text x="183" y="1046">RubisCO large subunit</text>
<rect x="316" y="1007" width="10" height="10" fill="#c1152b"/><text x="332" y="1016">RNA polymerase</text>
<rect x="316" y="1022" width="10" height="10" fill="#e2b07d"/><text x="332" y="1031">ribosomal proteins (SSU)</text>
<rect x="316" y="1037" width="10" height="10" fill="#a67944"/><text x="332" y="1046">ribosomal proteins (LSU)</text>
<rect x="472" y="1007" width="10" height="10" fill="#f06812"/><text x="488" y="1016">clpP, matK</text>
<rect x="472" y="1022" width="10" height="10" fill="#a8299c"/><text x="488" y="1031">other genes</text>
<rect x="472" y="1037" width="10" height="10" fill="#fff7d4"/><text x="488" y="1046">hypothetical chloroplast reading frames (ycf)</text>
<rect x="730" y="1007" width="10" height="10" fill="#fff"/><text x="746" y="1016">introns</text>
<rect x="730" y="1022" width="10" height="10" fill="#1b2c88"/><text x="746" y="1031">transfer RNAs</text>
<rect x="730" y="1037" width="10" height="10" fill="#e4001c"/><text x="746" y="1046">ribosomal RNAs</text>
<rect x="843" y="1007" width="10" height="10" fill="#f49a9a"/><text x="859" y="1016">origin of replication</text>
<rect x="843" y="1022" width="10" height="10" fill="#ff0000"/><text x="859" y="1031">polycistronic transcripts</text>
</g>
</svg>
